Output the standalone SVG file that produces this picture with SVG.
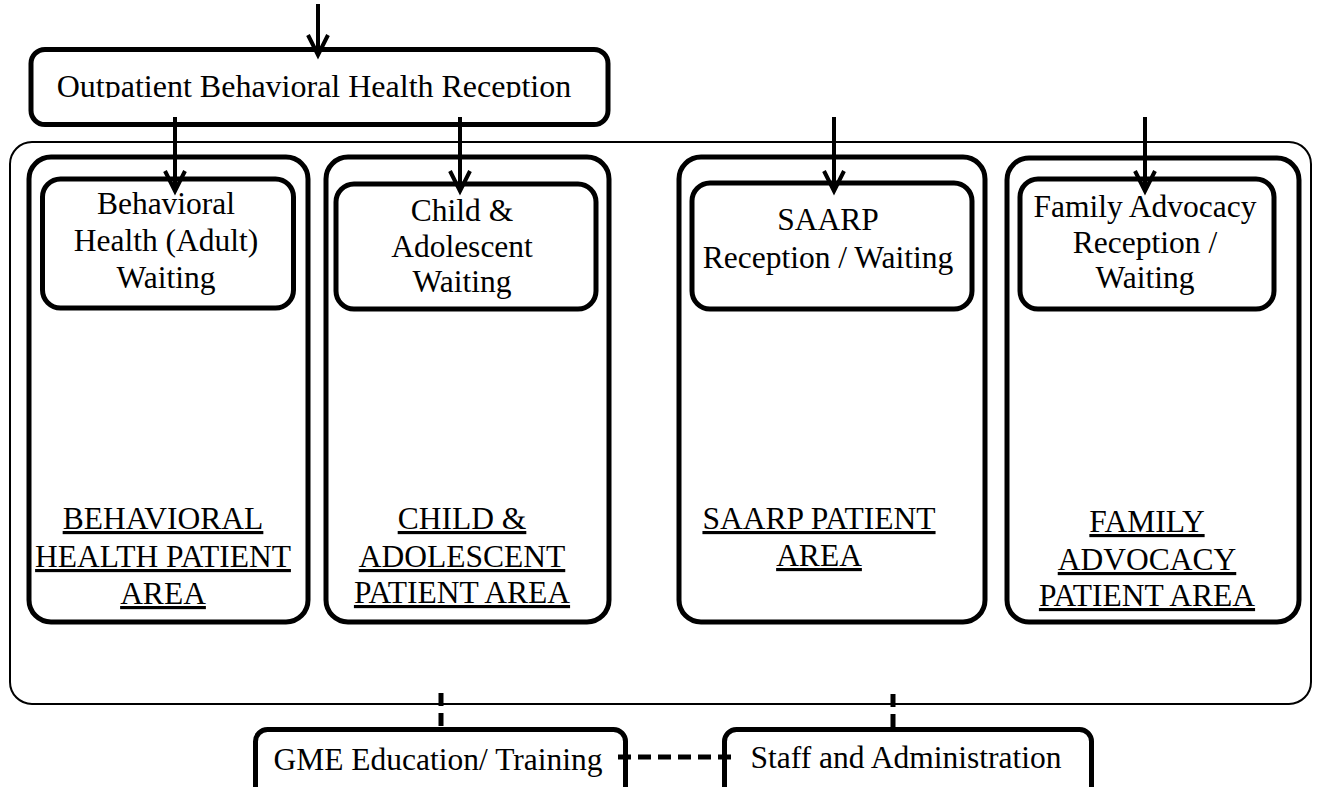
<svg xmlns="http://www.w3.org/2000/svg" width="1318" height="787" viewBox="0 0 1318 787">
<style>
.box{fill:none;stroke:#000;stroke-width:5}
.outer{fill:none;stroke:#000;stroke-width:2}
.t{font-family:"Liberation Serif","Times New Roman",serif;font-size:31.5px;fill:#000;text-anchor:middle}
.u{text-decoration:underline}
.arrow{stroke:#000;stroke-width:4;fill:none;marker-end:url(#head)}
.dash{stroke:#000;stroke-width:5;fill:none;stroke-dasharray:13 7}
</style>
<defs>
<marker id="head" markerUnits="userSpaceOnUse" orient="auto" refX="0" refY="0" markerWidth="30" markerHeight="30" viewBox="-25 -15 30 30" overflow="visible">
<path d="M-20,-10 L0,0 L-20,10" fill="none" stroke="#000" stroke-width="4" stroke-linejoin="miter"/>
</marker>
<clipPath id="recClip"><rect x="0" y="0" width="1318" height="98"/></clipPath>
</defs>
<rect id="outer" class="outer" x="10" y="142" width="1301" height="562" rx="22"/>
<g id="reception">
<rect class="box" x="31" y="49.5" width="577" height="75" rx="14"/>
<text class="t" x="314" y="96.5" font-size="32" style="font-size:32px" clip-path="url(#recClip)">Outpatient Behavioral Health Reception</text>
</g>
<g id="bh-area">
<rect class="box" x="29" y="157" width="279" height="465" rx="22"/>
<text class="t u" x="163" y="529">BEHAVIORAL</text>
<text class="t u" x="163" y="567">HEALTH PATIENT</text>
<text class="t u" x="163" y="604">AREA</text>
</g>
<g id="bh-waiting">
<rect class="box" x="42.5" y="179" width="251" height="129" rx="18"/>
<text class="t" x="166" y="214">Behavioral</text>
<text class="t" x="166" y="251">Health (Adult)</text>
<text class="t" x="166" y="288">Waiting</text>
</g>
<g id="ca-area">
<rect class="box" x="326" y="157" width="283" height="465" rx="22"/>
<text class="t u" x="462" y="529">CHILD &amp;</text>
<text class="t u" x="462" y="567">ADOLESCENT</text>
<text class="t u" x="462" y="603">PATIENT AREA</text>
</g>
<g id="ca-waiting">
<rect class="box" x="336" y="184" width="260" height="125" rx="18"/>
<text class="t" x="462" y="221">Child &amp;</text>
<text class="t" x="462" y="257">Adolescent</text>
<text class="t" x="462" y="292">Waiting</text>
</g>
<g id="saarp-area">
<rect class="box" x="679" y="157" width="306" height="465" rx="22"/>
<text class="t u" x="819" y="529">SAARP PATIENT</text>
<text class="t u" x="819" y="566">AREA</text>
</g>
<g id="saarp-waiting">
<rect class="box" x="692" y="183" width="280" height="126" rx="18"/>
<text class="t" x="828" y="230">SAARP</text>
<text class="t" x="828" y="268">Reception / Waiting</text>
</g>
<g id="fa-area">
<rect class="box" x="1007" y="158" width="292" height="464" rx="22"/>
<text class="t u" x="1147" y="532">FAMILY</text>
<text class="t u" x="1147" y="570">ADVOCACY</text>
<text class="t u" x="1147" y="606">PATIENT AREA</text>
</g>
<g id="fa-waiting">
<rect class="box" x="1020" y="179" width="254" height="130" rx="18"/>
<text class="t" x="1145" y="217">Family Advocacy</text>
<text class="t" x="1145" y="253">Reception /</text>
<text class="t" x="1145" y="288">Waiting</text>
</g>
<g id="gme">
<rect class="box" x="255.5" y="729.5" width="370" height="75" rx="12"/>
<text class="t" x="438" y="770">GME Education/ Training</text>
</g>
<g id="staff">
<rect class="box" x="724.5" y="729.5" width="367" height="75" rx="12"/>
<text class="t" x="906" y="768">Staff and Administration</text>
</g>
<g id="connectors">
<line class="arrow" x1="318" y1="4" x2="318" y2="55"/>
<line class="arrow" x1="175" y1="117" x2="175" y2="191"/>
<line class="arrow" x1="460" y1="117" x2="460" y2="191"/>
<line class="arrow" x1="834" y1="117" x2="834" y2="191"/>
<line class="arrow" x1="1145" y1="117" x2="1145" y2="191"/>
<line class="dash" x1="441" y1="693" x2="441" y2="728"/>
<line class="dash" x1="893" y1="694" x2="893" y2="728"/>
<line class="dash" x1="618" y1="757" x2="737" y2="757"/>
</g>
</svg>
